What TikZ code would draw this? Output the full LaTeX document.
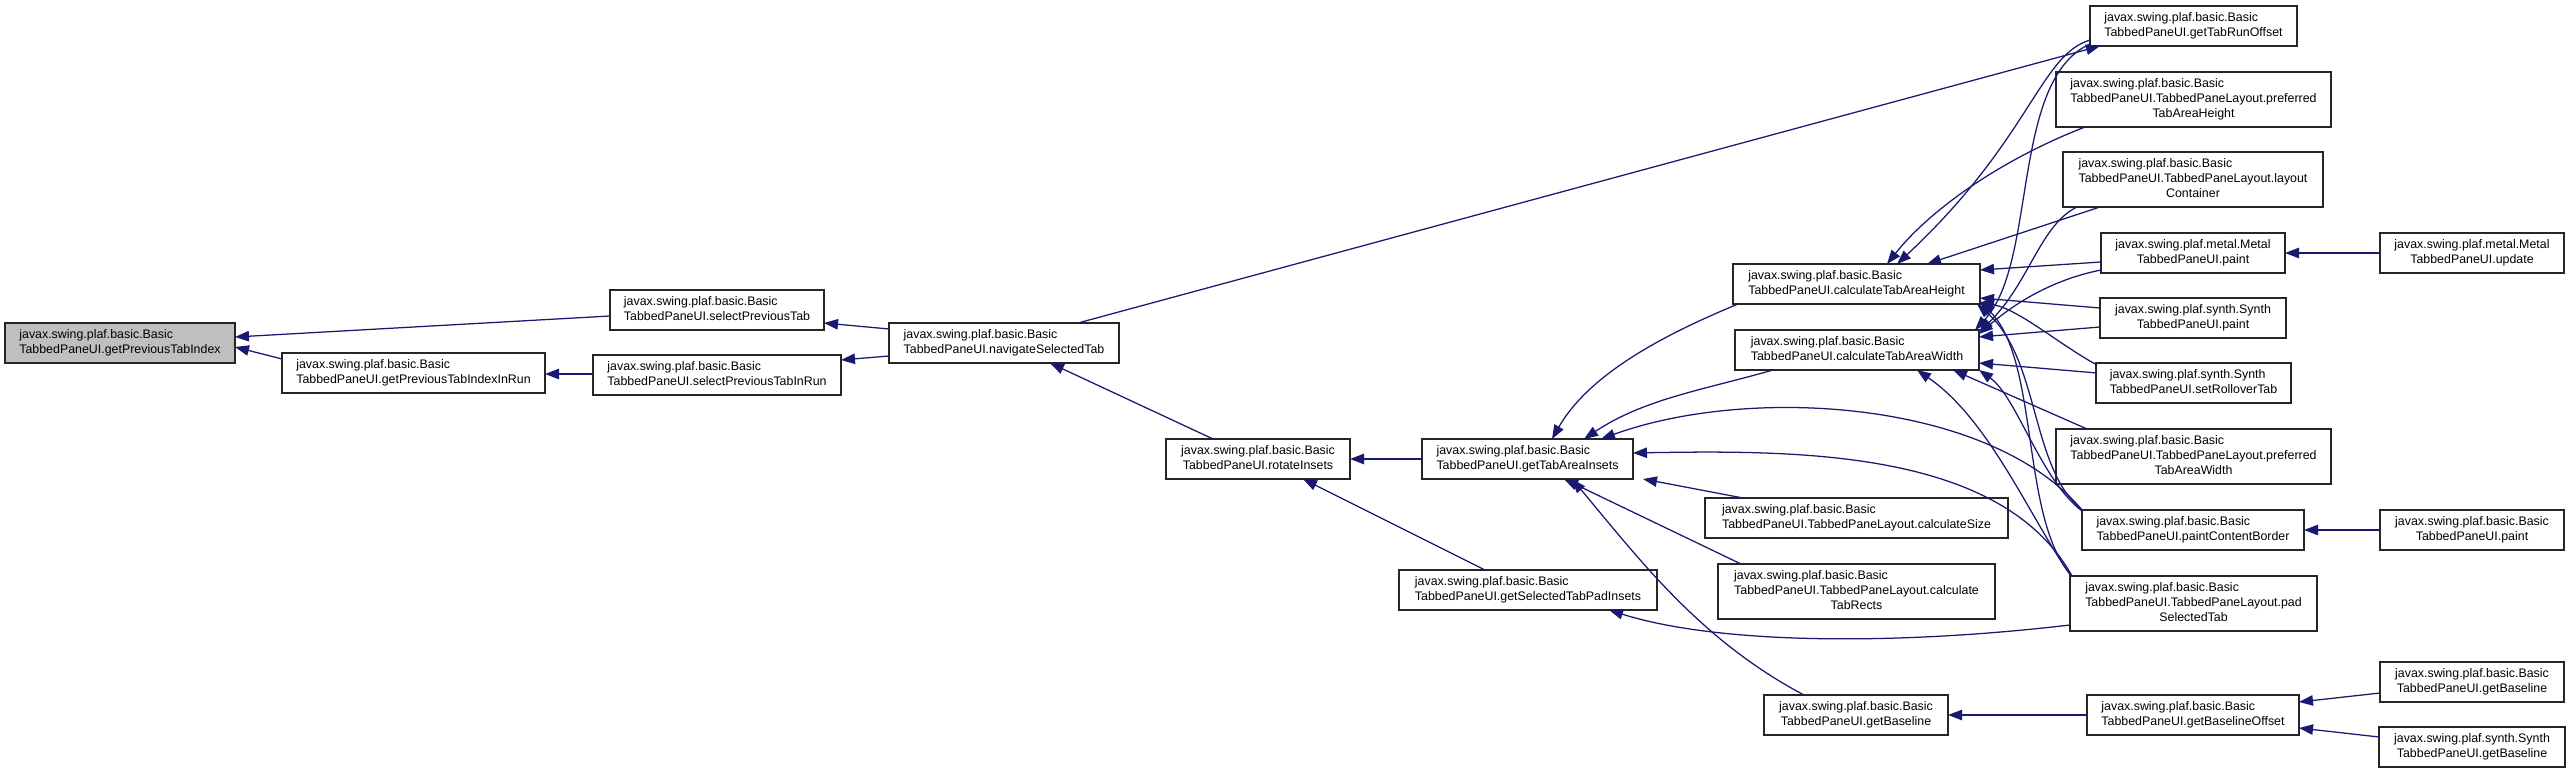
\documentclass[tikz,border=0pt]{standalone}
\usepackage{fontspec}
\setmainfont{Liberation Sans}
\usetikzlibrary{arrows.meta,calc}
\definecolor{edgec}{HTML}{191970}
\definecolor{rootfill}{HTML}{BFBFBF}
\newcommand\twol[2]{\begin{tabular}{@{}l@{}}#1\\\multicolumn{1}{@{}c@{}}{#2}\end{tabular}}
\newcommand\threel[3]{\begin{tabular}{@{}l@{}}#1\\#2\\\multicolumn{1}{@{}c@{}}{#3}\end{tabular}}
\newcommand\bx[7][]{\node[dbox,#1,minimum width={(#5-#3)*0.75pt},minimum height={(#6-#4)*0.75pt}] (#2) at ({(#3+#5)/2},{(#4+#6)/2}) {#7};}
\newcommand\JB{javax.swing.plaf.basic.Basic}
\tikzset{
  dbox/.style={draw=black!85, line width=1pt, fill=white, inner sep=0pt, outer sep=0pt,
    font=\fontsize{9.3}{11.25}\selectfont},
  rootbox/.style={fill=rootfill},
  cg/.style={draw=edgec, line width=0.95pt, -{Triangle[length=10.5pt,width=7.8pt]}}
}
\begin{document}
\begin{tikzpicture}[x=0.75pt,y=-0.75pt]
\useasboundingbox (0,0) rectangle (2571,773);
% nodes
\bx[rootbox]{root}{5}{323}{235}{363}{\twol{\JB}{TabbedPaneUI.getPreviousTabIndex}}
\bx{gPTIR}{282}{353}{545}{393}{\twol{\JB}{TabbedPaneUI.getPreviousTabIndexInRun}}
\bx{sPT}{610}{290}{824}{330}{\twol{\JB}{TabbedPaneUI.selectPreviousTab}}
\bx{sPTIR}{593}{355}{841}{395}{\twol{\JB}{TabbedPaneUI.selectPreviousTabInRun}}
\bx{nST}{889}{323}{1119}{363}{\twol{\JB}{TabbedPaneUI.navigateSelectedTab}}
\bx{rI}{1166}{439}{1350}{479}{\twol{\JB}{TabbedPaneUI.rotateInsets}}
\bx{gTAI}{1422}{439}{1633}{479}{\twol{\JB}{TabbedPaneUI.getTabAreaInsets}}
\bx{gSTPI}{1399}{570}{1657}{610}{\twol{\JB}{TabbedPaneUI.getSelectedTabPadInsets}}
\bx{cTAH}{1733}{264}{1980}{304}{\twol{\JB}{TabbedPaneUI.calculateTabAreaHeight}}
\bx{cTAW}{1735}{330}{1979}{370}{\twol{\JB}{TabbedPaneUI.calculateTabAreaWidth}}
\bx{cS}{1705}{498}{2008}{538}{\twol{\JB}{TabbedPaneUI.TabbedPaneLayout.calculateSize}}
\bx{cTR}{1718}{564}{1995}{619}{\threel{\JB}{TabbedPaneUI.TabbedPaneLayout.calculate}{TabRects}}
\bx{gB}{1764}{695}{1948}{735}{\twol{\JB}{TabbedPaneUI.getBaseline}}
\bx{gTRO}{2090}{6}{2297}{46}{\twol{\JB}{TabbedPaneUI.getTabRunOffset}}
\bx{pTAH}{2056}{72}{2331}{127}{\threel{\JB}{TabbedPaneUI.TabbedPaneLayout.preferred}{TabAreaHeight}}
\bx{lC}{2063}{152}{2323}{207}{\threel{\JB}{TabbedPaneUI.TabbedPaneLayout.layout}{Container}}
\bx{mP}{2101}{233}{2285}{273}{\twol{javax.swing.plaf.metal.Metal}{TabbedPaneUI.paint}}
\bx{sP}{2100}{298}{2286}{338}{\twol{javax.swing.plaf.synth.Synth}{TabbedPaneUI.paint}}
\bx{sRT}{2096}{363}{2291}{403}{\twol{javax.swing.plaf.synth.Synth}{TabbedPaneUI.setRolloverTab}}
\bx{pTAW}{2056}{429}{2331}{484}{\threel{\JB}{TabbedPaneUI.TabbedPaneLayout.preferred}{TabAreaWidth}}
\bx{pCB}{2082}{510}{2304}{550}{\twol{\JB}{TabbedPaneUI.paintContentBorder}}
\bx{pST}{2070}{576}{2317}{631}{\threel{\JB}{TabbedPaneUI.TabbedPaneLayout.pad}{SelectedTab}}
\bx{gBO}{2087}{695}{2299}{735}{\twol{\JB}{TabbedPaneUI.getBaselineOffset}}
\bx{mU}{2380}{233}{2564}{273}{\twol{javax.swing.plaf.metal.Metal}{TabbedPaneUI.update}}
\bx{bP}{2380}{510}{2564}{550}{\twol{\JB}{TabbedPaneUI.paint}}
\bx{bGB}{2380}{662}{2564}{702}{\twol{\JB}{TabbedPaneUI.getBaseline}}
\bx{sGB}{2379}{727}{2565}{767}{\twol{javax.swing.plaf.synth.Synth}{TabbedPaneUI.getBaseline}}
% edges (caller -> callee)
\draw[cg] ($(sPT.north west)+(0,26)$) -- ($(root.north east)+(0,14)$);
\draw[cg] ($(gPTIR.north west)+(0,6)$) -- ($(root.north east)+(0,24)$);
\draw[cg] ($(sPTIR.north west)+(0,19)$) -- ($(gPTIR.north east)+(0,21)$);
\draw[cg] ($(nST.north west)+(0,6)$) -- ($(sPT.north east)+(0,33)$);
\draw[cg] ($(nST.north west)+(0,33)$) -- ($(sPTIR.north east)+(0,5)$);
\draw[cg] ($(nST.north west)+(189,0)$) -- ($(gTRO.south west)+(10,0)$);
\draw[cg] ($(rI.north west)+(47,0)$) -- ($(nST.south west)+(161,0)$);
\draw[cg] ($(gTAI.north west)+(0,20)$) -- ($(rI.north east)+(0,20)$);
\draw[cg] ($(gSTPI.north west)+(86,0)$) -- ($(rI.south west)+(137,0)$);
\draw[cg] ($(cTAH.south west)+(5,0)$) .. controls +(-60,25) and +(40,-70) .. ($(gTAI.north west)+(130,0)$);
\draw[cg] ($(cTAW.south west)+(38,0)$) .. controls +(-70,20) and +(60,-40) .. ($(gTAI.north west)+(162,0)$);
\draw[cg] (pCB.north west) .. controls +(-92,-110) and +(149,-54) .. ($(gTAI.north west)+(179,0)$);
\draw[cg] ($(pST.north west)+(2,0)$) .. controls +(-70,-126) and +(167,-3) .. ($(gTAI.north east)+(0,14)$);
\draw[cg] ($(cS.north west)+(38,0)$) -- ($(gTAI.south east)+(10,0)$);
\draw[cg] ($(cTR.north west)+(23,0)$) -- ($(gTAI.south west)+(142,0)$);
\draw[cg] ($(gB.north west)+(40,0)$) .. controls +(-104,-55) and +(68,81) .. ($(gTAI.south west)+(150,0)$);
\draw[cg] ($(pST.north west)+(0,49)$) .. controls +(-170,20) and +(111,35) .. ($(gSTPI.south west)+(210,0)$);
% into calculateTabAreaHeight / Width
\draw[cg] ($(gTRO.north west)+(0,34)$) .. controls +(-50,15) and +(133,-124) .. ($(cTAH.north west)+(164,0)$);
\draw[cg] ($(gTRO.north west)+(0,38)$) .. controls +(-80,36) and +(63,-67) .. ($(cTAW.north east)+(-4,0)$);
\draw[cg] ($(pTAH.south west)+(29,0)$) .. controls +(-85,33) and +(43,-54) .. ($(cTAH.north west)+(154,0)$);
\draw[cg] ($(lC.south west)+(37,0)$) -- ($(cTAH.north west)+(194,0)$);
\draw[cg] ($(lC.south west)+(14,0)$) .. controls +(-37,18) and +(50,-48) .. ($(cTAW.north east)+(0,2)$);
\draw[cg] ($(mP.north west)+(0,29)$) -- ($(cTAH.north east)+(0,6)$);
\draw[cg] ($(mP.north west)+(0,37)$) .. controls +(-50,10) and +(35,-30) .. ($(cTAW.north east)+(0,4)$);
\draw[cg] ($(sP.north west)+(0,10)$) -- ($(cTAH.north east)+(0,34)$);
\draw[cg] ($(sP.north west)+(0,29)$) -- ($(cTAW.north east)+(0,7)$);
\draw[cg] ($(sRT.north west)+(1,2)$) .. controls +(-37,-20) and +(40,8) .. ($(cTAH.north east)+(0,38)$);
\draw[cg] ($(sRT.north west)+(1,10)$) -- ($(cTAW.north east)+(0,33)$);
\draw[cg] (pCB.north west) .. controls +(-52,-42) and +(63,55) .. ($(cTAH.south east)+(-3,0)$);
\draw[cg] ($(pST.north west)+(2,0)$) .. controls +(-52,-56) and +(60,58) .. ($(cTAH.south east)+(0,-2)$);
\draw[cg] ($(pTAW.north west)+(31,0)$) -- ($(cTAW.south east)+(-26,0)$);
\draw[cg] ($(pCB.north west)+(0,1)$) .. controls +(-42,-32) and +(38,27) .. (cTAW.south east);
\draw[cg] ($(pST.north west)+(1,0)$) .. controls +(-40,-56) and +(73,50) .. ($(cTAW.south west)+(182,0)$);
% right column
\draw[cg] ($(mU.north west)+(0,20)$) -- ($(mP.north east)+(0,20)$);
\draw[cg] ($(bP.north west)+(0,20)$) -- ($(pCB.north east)+(0,20)$);
\draw[cg] ($(gBO.north west)+(0,20)$) -- ($(gB.north east)+(0,20)$);
\draw[cg] ($(bGB.north west)+(0,31)$) -- ($(gBO.north east)+(0,7)$);
\draw[cg] ($(sGB.north west)+(0,10)$) -- ($(gBO.north east)+(0,33)$);
\end{tikzpicture}
\end{document}
